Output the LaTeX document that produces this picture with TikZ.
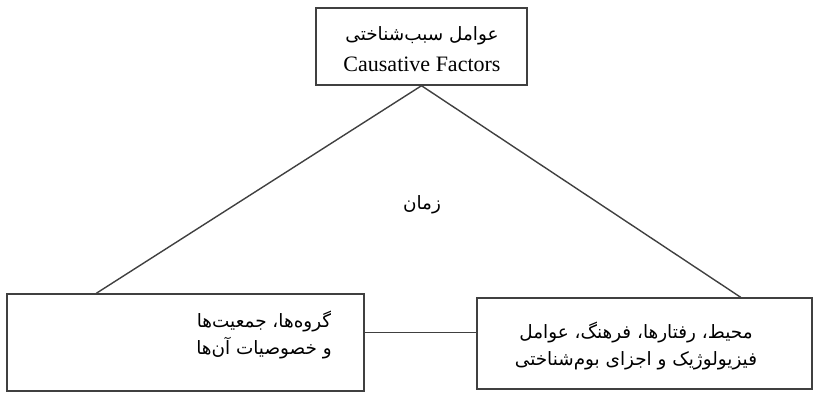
\documentclass[tikz,border=0pt]{standalone}
\usepackage{fontspec}
\setmainfont{Liberation Serif}
\newfontfamily\arabicfont[Script=Arabic]{DejaVu Sans}
\TeXXeTstate=1
\usetikzlibrary{calc}

\begin{document}
\begin{tikzpicture}[x=0.5pt, y=-0.5pt,
    box/.style={draw=black!75, line width=0.7pt, inner sep=0pt},
    fa/.style={font=\arabicfont\fontsize{9.2}{13.3}\selectfont, align=center, inner sep=0pt},
    link/.style={draw=black!75, line width=0.7pt}]
    % Page frame
    \useasboundingbox (0,0) rectangle (821,397);

    % Top box: causative factors
    \node[box, minimum width=105.5pt, minimum height=38.5pt] (cause) at (421.5,46.5) {};
    \node[fa] (causefa) at (422,36) {\beginR عوامل سبب‌شناختی\endR};
    \node[font=\fontsize{11}{13}\selectfont, inner sep=0pt] (causeen) at (422,64) {Causative Factors};

    % Bottom left box: groups
    \node[box, minimum width=178.5pt, minimum height=48.5pt] (grp) at (185.5,342.5) {};
    \node[fa] (grptxt) at (264,335) {\beginR گروه‌ها، جمعیت‌ها\endR\\\beginR و خصوصیات آن‌ها\endR};

    % Bottom right box: environment
    \node[box, minimum width=167.5pt, minimum height=45.5pt] (env) at (644.5,343.5) {};
    \node[fa] (envtxt) at (636,346) {\beginR محیط، رفتارها، فرهنگ، عوامل\endR\\\beginR فیزیولوژیک و اجزای بوم‌شناختی\endR};

    % Time in the middle
    \node[fa] (time) at (422,205) {\beginR زمان\endR};

    % Triangle sides
    \draw[link] (cause.south) -- ([xshift=45pt]grp.north west);
    \draw[link] (cause.south) -- ([xshift=-36pt]env.north east);
    \draw[link] ([yshift=5pt]grp.east) -- ([yshift=5pt]grp.east -| env.west);

\end{tikzpicture}
\end{document}
